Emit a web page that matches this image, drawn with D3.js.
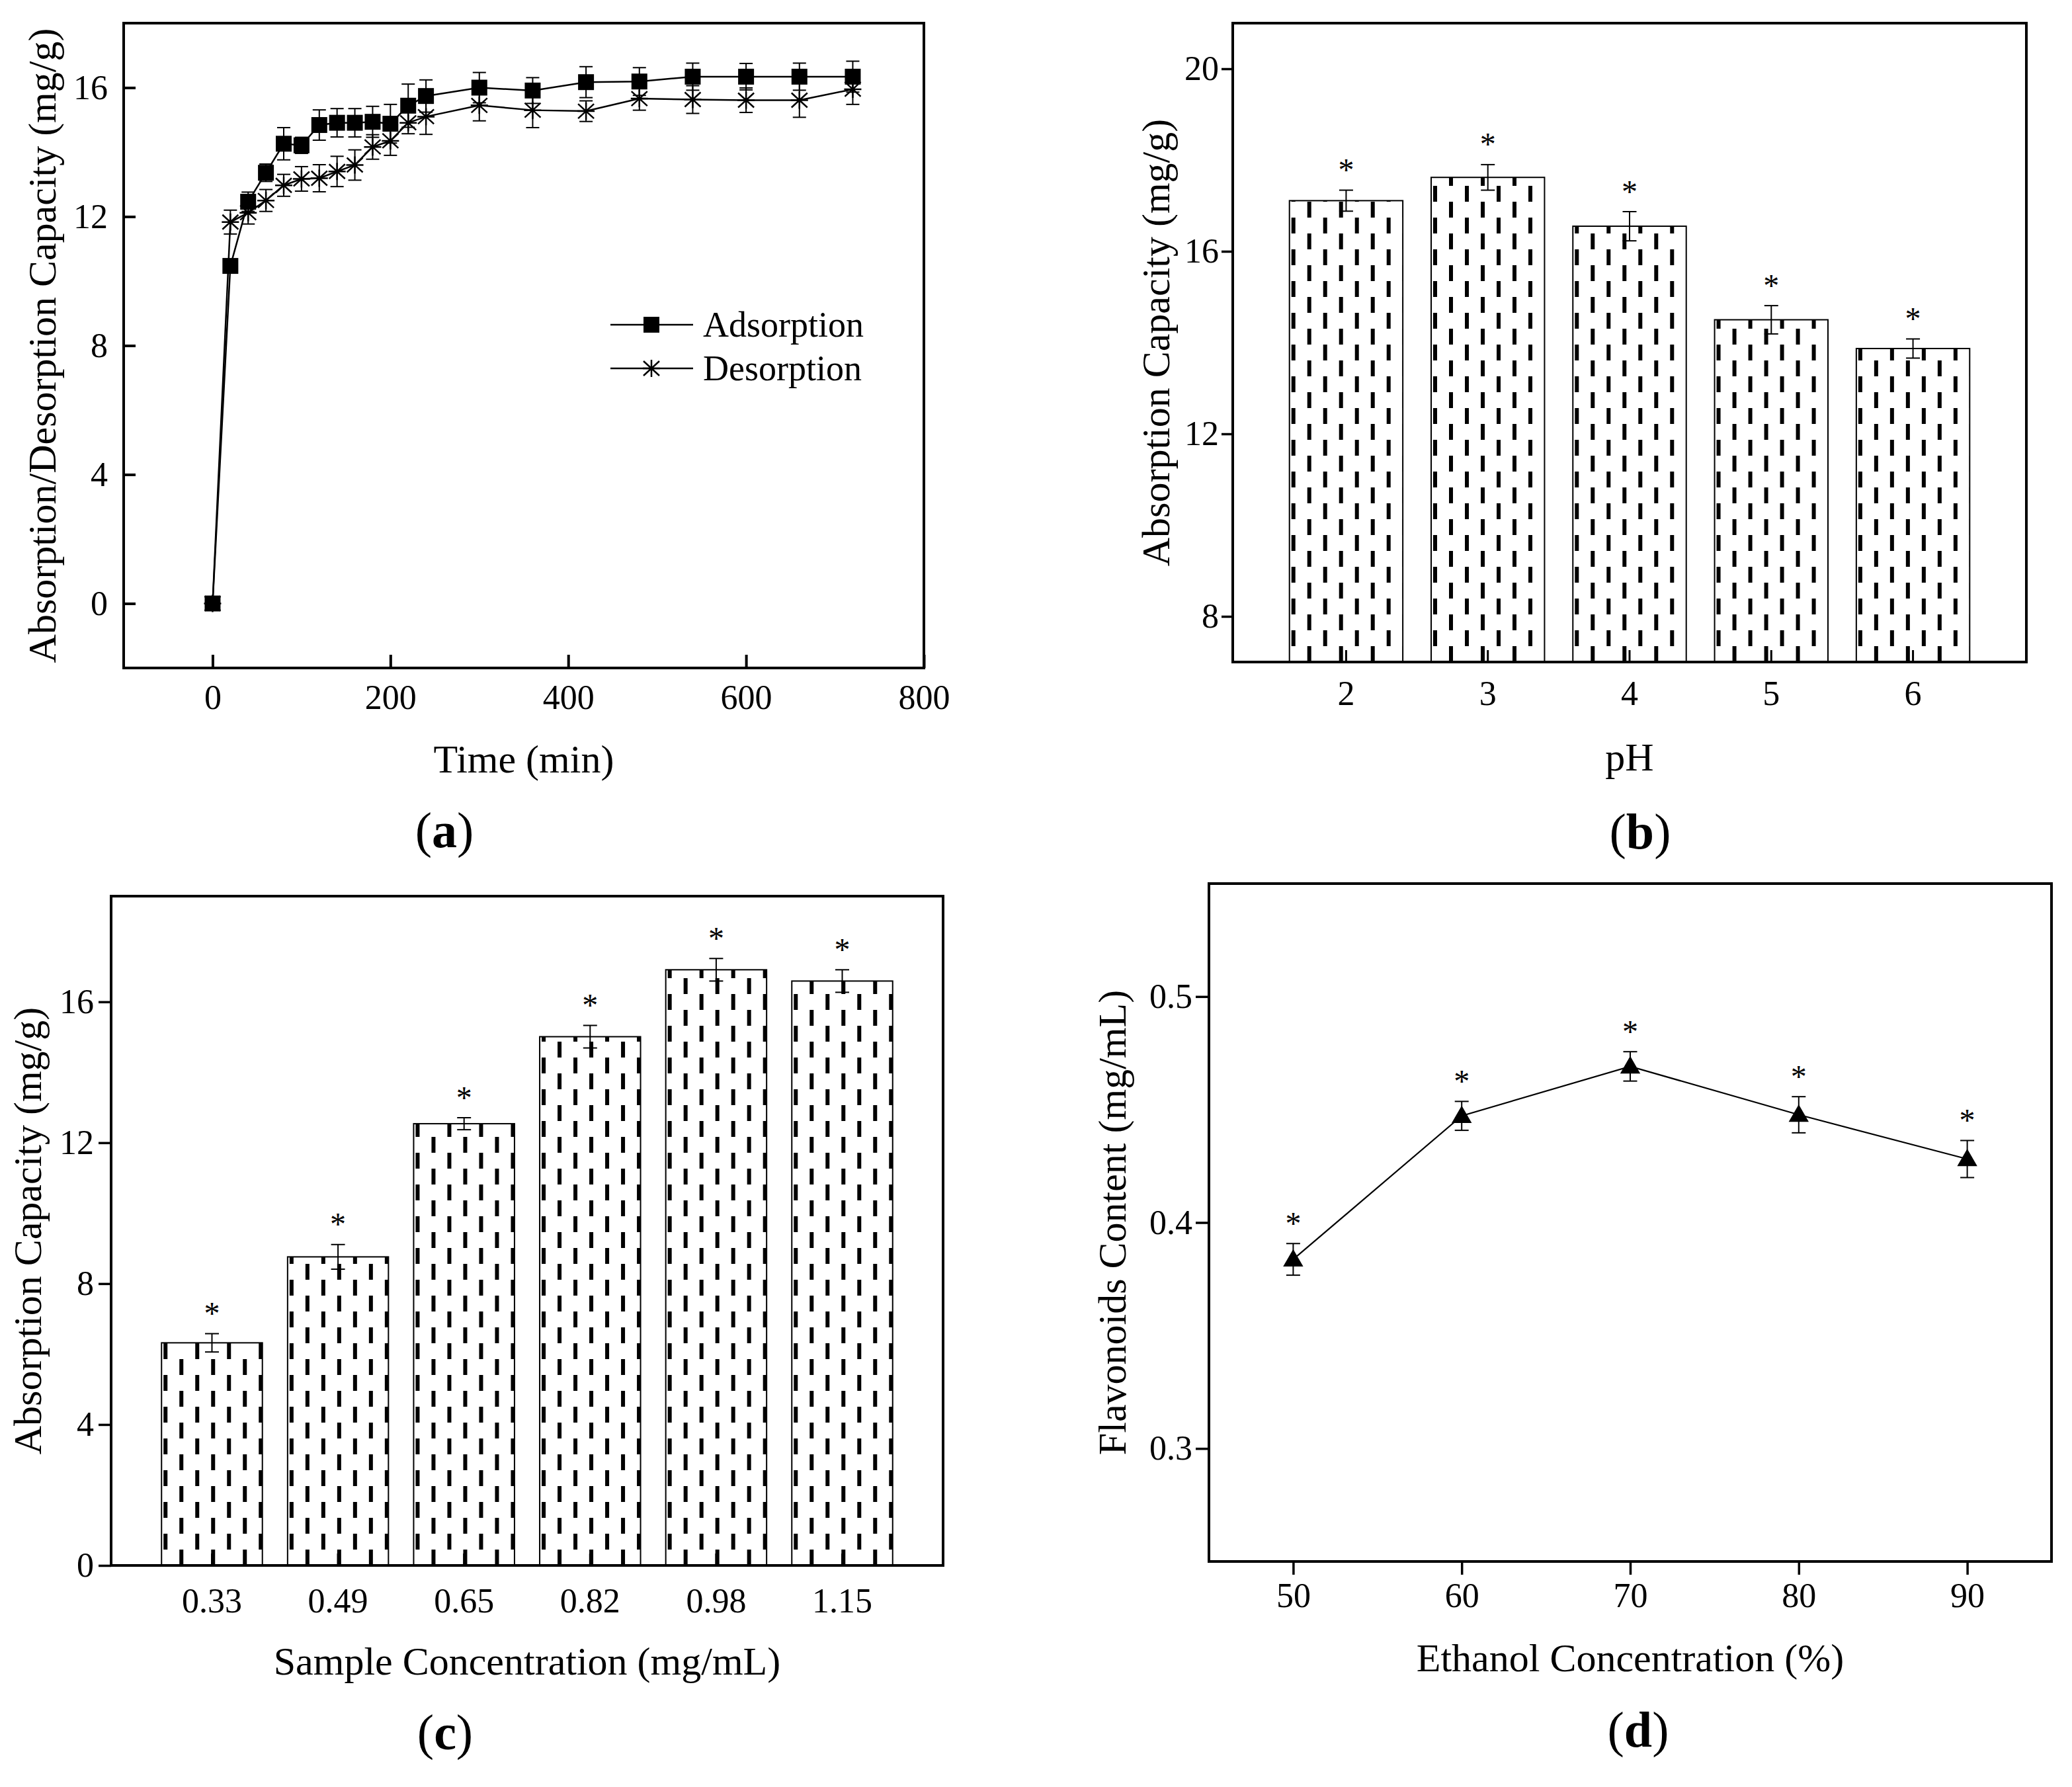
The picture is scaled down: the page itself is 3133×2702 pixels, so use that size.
<!DOCTYPE html>
<html>
<head>
<meta charset="utf-8">
<script src="https://cdn.jsdelivr.net/npm/d3@7"></script>
<style>
  html, body { margin: 0; padding: 0; background: #fff; }
  svg { display: block; }
</style>
</head>
<body>
<div id="chart"></div>
<script>
// ---------------- DATA ----------------
// (a) adsorption / desorption kinetics
const timeMin = [0, 20, 40, 60, 80, 100, 120, 140, 160, 180, 200, 220, 240, 300, 360, 420, 480, 540, 600, 660, 720];
const adsorption = [0, 10.47, 12.46, 13.36, 14.26, 14.21, 14.84, 14.91, 14.91, 14.94, 14.88, 15.44, 15.74, 16.0, 15.91, 16.17, 16.19, 16.34, 16.34, 16.34, 16.34];
const adsorptionErr = [0, 0.15, 0.3, 0.27, 0.5, 0.25, 0.47, 0.44, 0.44, 0.48, 0.6, 0.67, 0.5, 0.47, 0.4, 0.48, 0.43, 0.42, 0.41, 0.42, 0.48];
const desorption = [0, 11.83, 12.12, 12.5, 12.97, 13.17, 13.19, 13.4, 13.6, 14.16, 14.35, 14.91, 15.1, 15.45, 15.3, 15.27, 15.66, 15.63, 15.61, 15.61, 15.95];
const desorptionErr = [0, 0.37, 0.35, 0.34, 0.34, 0.38, 0.42, 0.47, 0.47, 0.38, 0.45, 0.34, 0.55, 0.48, 0.54, 0.32, 0.36, 0.43, 0.38, 0.53, 0.47];
const aXTicks = [0, 200, 400, 600, 800];
const aYTicks = [0, 4, 8, 12, 16];
const seriesNames = ["Adsorption", "Desorption"];

// (b) pH
const phLevels = ["2", "3", "4", "5", "6"];
const phCapacity = [17.11, 17.62, 16.55, 14.5, 13.87];
const phErr = [0.23, 0.28, 0.32, 0.31, 0.21];
const bYTicks = [8, 12, 16, 20];

// (c) sample concentration
const sampleConc = ["0.33", "0.49", "0.65", "0.82", "0.98", "1.15"];
const concCapacity = [6.32, 8.76, 12.54, 15.01, 16.91, 16.59];
const concErr = [0.26, 0.35, 0.17, 0.32, 0.32, 0.32];
const cYTicks = [0, 4, 8, 12, 16];

// (d) ethanol concentration
const ethanolConc = [50, 60, 70, 80, 90];
const flavonoids = [0.3837, 0.4472, 0.4691, 0.4477, 0.4281];
const flavErr = [0.007, 0.0064, 0.0065, 0.008, 0.0082];
const dXTicks = [50, 60, 70, 80, 90];
const dYTicks = [0.3, 0.4, 0.5];

// ---------------- SETUP ----------------
const W = 3133, H = 2702;
const FONT = '"Liberation Serif", "Times New Roman", Times, serif';
const TICK_FS = 52, TITLE_FS = 60, LABEL_FS = 76, STAR_FS = 48;

const svg = d3.select("#chart").append("svg")
  .attr("width", W).attr("height", H)
  .attr("viewBox", `0 0 ${W} ${H}`);
svg.append("rect").attr("width", W).attr("height", H).attr("fill", "#fff");
const defs = svg.append("defs");

function styleAxis(g, tw) {
  g.select(".domain").remove();
  g.selectAll(".tick line").attr("stroke", "#000").attr("stroke-width", tw);
  g.selectAll(".tick text").attr("font-family", FONT).attr("font-size", TICK_FS).attr("fill", "#000");
}
function frame(g, x0, x1, y0, y1) {
  g.append("rect").attr("x", x0).attr("y", y0).attr("width", x1 - x0).attr("height", y1 - y0)
    .attr("fill", "none").attr("stroke", "#000").attr("stroke-width", 4);
}
function xTitle(g, text, cx, by) {
  g.append("text").attr("x", cx).attr("y", by).attr("text-anchor", "middle").attr("fill", "#000")
    .attr("font-family", FONT).attr("font-size", TITLE_FS).text(text);
}
function yTitle(g, text, bx, cy) {
  g.append("text").attr("transform", `translate(${bx},${cy}) rotate(-90)`).attr("fill", "#000")
    .attr("text-anchor", "middle").attr("font-family", FONT).attr("font-size", TITLE_FS).text(text);
}
function panelLabel(letter, cx, by) {
  const t = svg.append("text").attr("x", cx).attr("y", by).attr("text-anchor", "middle").attr("fill", "#000")
    .attr("font-family", FONT).attr("font-size", LABEL_FS);
  t.append("tspan").text("(");
  t.append("tspan").attr("font-weight", "bold").text(letter);
  t.append("tspan").text(")");
}
function errBars(g, xs, ys, es, xScale, yScale, cap) {
  const eg = g.append("g").attr("stroke", "#000").attr("stroke-width", 2).attr("fill", "none");
  xs.forEach((xv, i) => {
    if (!es[i]) return;
    const cx = xScale(xv), yt = yScale(ys[i] + es[i]), yb = yScale(ys[i] - es[i]);
    eg.append("line").attr("x1", cx).attr("x2", cx).attr("y1", yt).attr("y2", yb);
    eg.append("line").attr("x1", cx - cap / 2).attr("x2", cx + cap / 2).attr("y1", yt).attr("y2", yt);
    eg.append("line").attr("x1", cx - cap / 2).attr("x2", cx + cap / 2).attr("y1", yb).attr("y2", yb);
  });
}
function stars(g, xs, ys, es, xScale, yScale) {
  xs.forEach((xv, i) => {
    const cy = yScale(ys[i] + es[i]) - 37;
    g.append("text").attr("x", xScale(xv)).attr("y", cy + 0.47 * STAR_FS).attr("fill", "#000")
      .attr("text-anchor", "middle").attr("font-family", FONT).attr("font-size", STAR_FS).text("*");
  });
}
function dashPattern(id, x0, baseY) {
  const p = defs.append("pattern").attr("id", id).attr("patternUnits", "userSpaceOnUse")
    .attr("x", x0).attr("y", baseY).attr("width", 48).attr("height", 48);
  p.append("rect").attr("width", 48).attr("height", 48).attr("fill", "#fff");
  p.append("rect").attr("x", 3).attr("y", 0).attr("width", 6).attr("height", 24).attr("fill", "#000");
  p.append("rect").attr("x", 27).attr("y", 24).attr("width", 6).attr("height", 24).attr("fill", "#000");
}
function starPath(cx, cy) {
  return `M${cx},${cy - 13}L${cx},${cy + 13}` +
         `M${cx - 13},${cy}L${cx + 13},${cy}` +
         `M${cx - 12},${cy - 11}L${cx + 12},${cy + 11}` +
         `M${cx - 12},${cy + 11}L${cx + 12},${cy - 11}`;
}

// ---------------- PANEL A ----------------
(function () {
  const L = 187, R = 1397, T = 35, B = 1010;
  const x = d3.scaleLinear().domain([-100, 800]).range([L, R]);
  const y = d3.scaleLinear().domain([-2, 18]).range([B, T]);
  const g = svg.append("g");

  const gx = g.append("g").attr("transform", `translate(0,${B})`)
    .call(d3.axisBottom(x).tickValues(aXTicks).tickSizeInner(-20).tickSizeOuter(0).tickPadding(25));
  styleAxis(gx, 4);
  const gy = g.append("g").attr("transform", `translate(${L},0)`)
    .call(d3.axisLeft(y).tickValues(aYTicks).tickSizeInner(-18).tickSizeOuter(0).tickPadding(24));
  styleAxis(gy, 4);

  const line = d3.line().x(d => x(d[0])).y(d => y(d[1]));
  const desData = timeMin.map((t, i) => [t, desorption[i]]);
  const adsData = timeMin.map((t, i) => [t, adsorption[i]]);

  g.append("path").datum(desData).attr("d", line).attr("fill", "none").attr("stroke", "#000").attr("stroke-width", 2.5);
  g.append("path").datum(adsData).attr("d", line).attr("fill", "none").attr("stroke", "#000").attr("stroke-width", 2.5);
  errBars(g, timeMin, desorption, desorptionErr, x, y, 20);
  errBars(g, timeMin, adsorption, adsorptionErr, x, y, 20);

  g.append("g").selectAll("path").data(desData).join("path")
    .attr("d", d => starPath(x(d[0]), y(d[1]))).attr("stroke", "#000").attr("stroke-width", 2.5).attr("fill", "none");
  g.append("g").selectAll("rect").data(adsData).join("rect")
    .attr("x", d => x(d[0]) - 12).attr("y", d => y(d[1]) - 12).attr("width", 24).attr("height", 24).attr("fill", "#000");

  // legend
  const lg = g.append("g");
  const legY = [491, 557];
  seriesNames.forEach((name, i) => {
    lg.append("line").attr("x1", 923).attr("x2", 1048).attr("y1", legY[i]).attr("y2", legY[i])
      .attr("stroke", "#000").attr("stroke-width", 2.5);
    if (i === 0) {
      lg.append("rect").attr("x", 985 - 12).attr("y", legY[i] - 12).attr("width", 24).attr("height", 24).attr("fill", "#000");
    } else {
      lg.append("path").attr("d", starPath(985, legY[i])).attr("stroke", "#000").attr("stroke-width", 2.5);
    }
    lg.append("text").attr("x", 1063).attr("y", legY[i] + 18).attr("font-family", FONT).attr("fill", "#000")
      .attr("font-size", 54).text(name);
  });

  frame(g, L, R, T, B);
  xTitle(g, "Time (min)", (L + R) / 2, 1168);
  yTitle(g, "Absorption/Desorption Capacity (mg/g)", 84, (T + B) / 2);
  panelLabel("a", 672, 1281);
})();

// ---------------- PANEL B ----------------
(function () {
  const L = 1864, R = 3064, T = 35, B = 1001;
  const x = d3.scaleBand().domain(phLevels).range([L, R]).paddingInner(0.2).paddingOuter(0.4);
  const y = d3.scaleLinear().domain([7, 21]).range([B, T]);
  const g = svg.append("g");
  const xc = v => x(v) + x.bandwidth() / 2;

  phLevels.forEach((c, i) => {
    dashPattern("pb" + i, x(c), B);
    g.append("rect").attr("x", x(c)).attr("y", y(phCapacity[i])).attr("width", x.bandwidth())
      .attr("height", B - y(phCapacity[i])).attr("fill", `url(#pb${i})`).attr("stroke", "#000").attr("stroke-width", 2);
  });
  errBars(g, phLevels, phCapacity, phErr, xc, y, 21);
  stars(g, phLevels, phCapacity, phErr, xc, y);

  const gx = g.append("g").attr("transform", `translate(0,${B})`)
    .call(d3.axisBottom(x).tickSizeInner(-18).tickSizeOuter(0).tickPadding(28));
  styleAxis(gx, 3);
  const gy = g.append("g").attr("transform", `translate(${L},0)`)
    .call(d3.axisLeft(y).tickValues(bYTicks).tickSizeInner(17).tickSizeOuter(0).tickPadding(4));
  styleAxis(gy, 3.5);

  frame(g, L, R, T, B);
  xTitle(g, "pH", (L + R) / 2, 1165);
  yTitle(g, "Absorption Capacity (mg/g)", 1768, (T + B) / 2);
  panelLabel("b", 2480, 1283);
})();

// ---------------- PANEL C ----------------
(function () {
  const L = 168, R = 1426, T = 1355, B = 2367;
  const x = d3.scaleBand().domain(sampleConc).range([L, R]).paddingInner(0.2).paddingOuter(0.4);
  const y = d3.scaleLinear().domain([0, 19]).range([B, T]);
  const g = svg.append("g");
  const xc = v => x(v) + x.bandwidth() / 2;

  sampleConc.forEach((c, i) => {
    dashPattern("pc" + i, x(c), y(0));
    g.append("rect").attr("x", x(c)).attr("y", y(concCapacity[i])).attr("width", x.bandwidth())
      .attr("height", y(0) - y(concCapacity[i])).attr("fill", `url(#pc${i})`).attr("stroke", "#000").attr("stroke-width", 2);
  });
  errBars(g, sampleConc, concCapacity, concErr, xc, y, 21);
  stars(g, sampleConc, concCapacity, concErr, xc, y);

  const gx = g.append("g").attr("transform", `translate(0,${B})`)
    .call(d3.axisBottom(x).tickSizeInner(-18).tickSizeOuter(0).tickPadding(34));
  styleAxis(gx, 3);
  const gy = g.append("g").attr("transform", `translate(${L},0)`)
    .call(d3.axisLeft(y).tickValues(cYTicks).tickSizeInner(19).tickSizeOuter(0).tickPadding(7));
  styleAxis(gy, 3.5);

  frame(g, L, R, T, B);
  xTitle(g, "Sample Concentration (mg/mL)", (L + R) / 2, 2532);
  yTitle(g, "Absorption Capacity (mg/g)", 62, (T + B) / 2);
  panelLabel("c", 673, 2645);
})();

// ---------------- PANEL D ----------------
(function () {
  const L = 1828, R = 3102, T = 1336, B = 2361;
  const x = d3.scaleLinear().domain([45, 95]).range([L, R]);
  const y = d3.scaleLinear().domain([0.25, 0.55]).range([B, T]);
  const g = svg.append("g");

  const gx = g.append("g").attr("transform", `translate(0,${B})`)
    .call(d3.axisBottom(x).tickValues(dXTicks).tickSizeInner(20).tickSizeOuter(0).tickPadding(12));
  styleAxis(gx, 3.5);
  const gy = g.append("g").attr("transform", `translate(${L},0)`)
    .call(d3.axisLeft(y).tickValues(dYTicks).tickFormat(d3.format(".1f")).tickSizeInner(20).tickSizeOuter(0).tickPadding(5));
  styleAxis(gy, 3.5);

  const data = ethanolConc.map((e, i) => [e, flavonoids[i]]);
  g.append("path").datum(data).attr("d", d3.line().x(d => x(d[0])).y(d => y(d[1])))
    .attr("fill", "none").attr("stroke", "#000").attr("stroke-width", 2.2);
  errBars(g, ethanolConc, flavonoids, flavErr, x, y, 21);
  g.append("g").selectAll("path").data(data).join("path")
    .attr("transform", d => `translate(${x(d[0])},${y(d[1]) + 2})`)
    .attr("d", d3.symbol().type(d3.symbolTriangle).size(400)).attr("fill", "#000");
  stars(g, ethanolConc, flavonoids, flavErr, x, y);

  frame(g, L, R, T, B);
  xTitle(g, "Ethanol Concentration (%)", (L + R) / 2, 2527);
  yTitle(g, "Flavonoids Content (mg/mL)", 1702, (T + B) / 2);
  panelLabel("d", 2477, 2641);
})();
</script>
</body>
</html>
